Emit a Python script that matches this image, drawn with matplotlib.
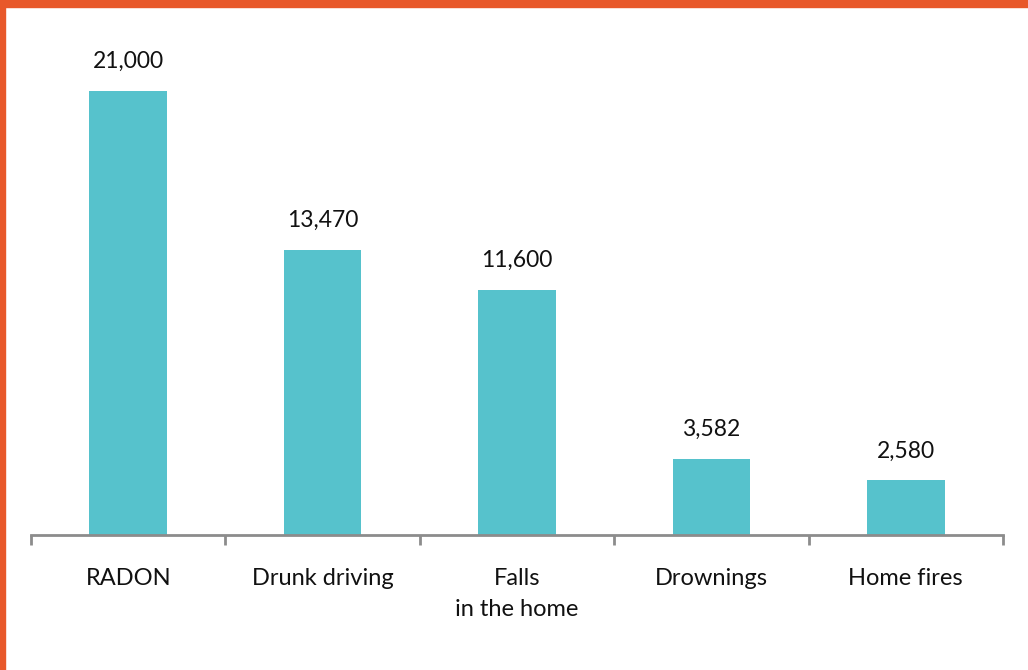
import numpy as np
import matplotlib.pyplot as plt
from matplotlib.patches import Rectangle

categories = ["RADON", "Drunk driving", "Falls\nin the home", "Drownings", "Home fires"]
deaths = [21000, 13470, 11600, 3582, 2580]

TEAL = "#56C2CC"
ORANGE = "#E8582A"
GREY = "#8C8C8C"

plt.rcParams['font.family'] = ['Lato', 'DejaVu Sans']

fig = plt.figure(figsize=(10.28, 6.70), dpi=100)
W, H = 1028, 670

# axes placed in pixel terms: spine from x=31 to x=1003, baseline at y=535
ax = fig.add_axes([31 / W, (H - 535) / H, 972 / W, (535 - 40) / H])

x = np.arange(len(categories))
ax.bar(x, deaths, width=0.4, color=TEAL, zorder=2)
ax.set_xlim(-0.5, len(categories) - 0.5)
ax.set_ylim(0, 23415)

for xi, v in zip(x, deaths):
    ax.annotate(f"{v:,}", (xi, v), xytext=(0, 19), textcoords="offset pixels",
                ha="center", va="bottom", fontsize=16.5, color="#111111")

for s in ["top", "right", "left"]:
    ax.spines[s].set_visible(False)
ax.spines["bottom"].set_color(GREY)
ax.spines["bottom"].set_linewidth(2)
ax.set_yticks([])

ax.set_xticks(x)
ax.set_xticklabels(categories, fontsize=17, color="#111111", linespacing=1.55)
ax.tick_params(axis="x", which="major", length=0, pad=24)
ax.set_xticks(np.arange(len(categories) + 1) - 0.5, minor=True)
ax.tick_params(axis="x", which="minor", length=7, width=2, color=GREY)
for lab in ax.get_xticklabels():
    lab.set_verticalalignment("top")

# orange frame along the top and left edges
fig.patches.append(Rectangle((0, (H - 7) / H), 1, 7 / H, transform=fig.transFigure,
                             color=ORANGE, zorder=0))
fig.patches.append(Rectangle((0, 0), 5 / W, 1, transform=fig.transFigure,
                             color=ORANGE, zorder=0))

fig.savefig("out.png", dpi=100)
